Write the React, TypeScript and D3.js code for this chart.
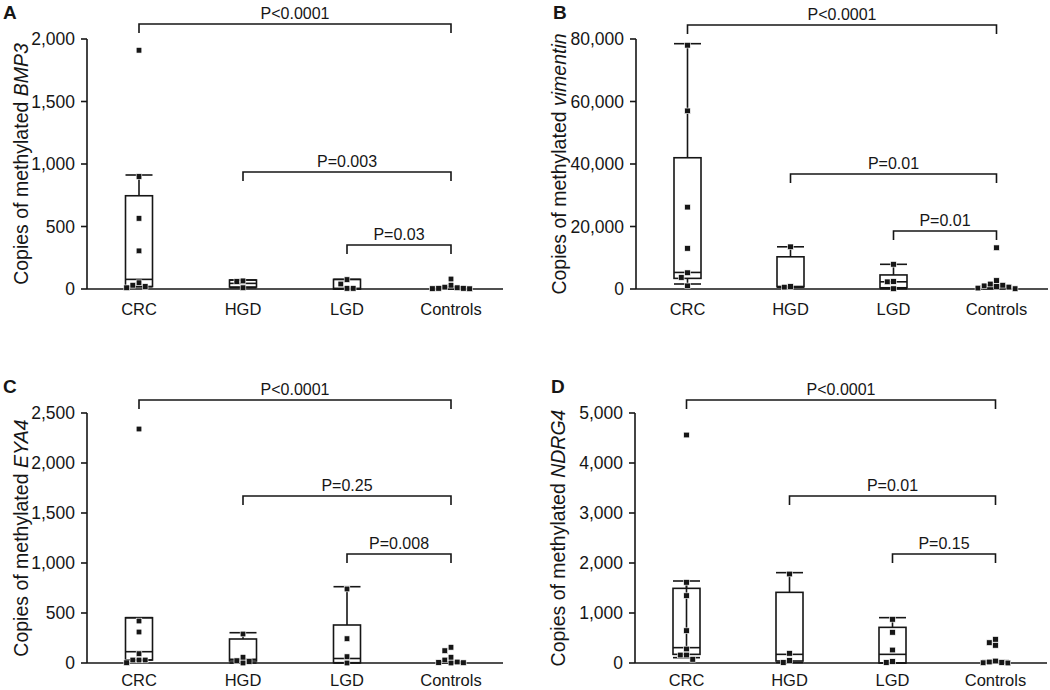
import React from "react";
import * as d3 from "d3";

const categories = ["CRC", "HGD", "LGD", "Controls"];
const bracketPairs = [[0, 3], [1, 3], [2, 3]];

// Panel A – BMP3
const bmp3Points = [
  [1910, 900, 565, 305, 50, 30, 20, 10],
  [65, 60, 10],
  [75, 40, 5, 5],
  [80, 30, 15, 10, 5, 5, 3, 2],
];
// [low whisker, Q1, median, Q3, high whisker]
const bmp3Boxes = [
  [18, 20, 77, 746, 912],
  [10, 16, 45, 72, 72],
  [0, 0, 5, 77, 77],
  [0, 2, 5, 10, 18],
];
const bmp3Ticks = [0, 500, 1000, 1500, 2000];
const bmp3PLabels = ["P<0.0001", "P=0.003", "P=0.03"];
const bmp3PLevels = [2120, 936, 352];

// Panel B – vimentin
const vimPoints = [
  [78000, 57000, 26200, 13000, 5200, 3700, 1000],
  [13500, 800, 600],
  [7900, 2400, 2300, 100],
  [13200, 2700, 1600, 1200, 1000, 800, 600, 300, 100],
];
const vimBoxes = [
  [1600, 3400, 5300, 42000, 78500],
  [600, 700, 800, 10300, 13500],
  [100, 400, 2300, 4500, 7900],
  [100, 300, 700, 1200, 1200],
];
const vimTicks = [0, 20000, 40000, 60000, 80000];
const vimPLabels = ["P<0.0001", "P=0.01", "P=0.01"];
const vimPLevels = [84500, 36800, 18560];

// Panel C – EYA4
const eyaPoints = [
  [2340, 420, 310, 93, 30, 30, 30, 3],
  [290, 57, 23, 15, 0],
  [740, 243, 63, 0],
  [157, 123, 57, 30, 10, 5, 3, 0],
];
const eyaBoxes = [
  [30, 30, 113, 453, 453],
  [0, 20, 37, 240, 303],
  [0, 3, 45, 380, 763],
  [0, 0, 5, 10, 10],
];
const eyaTicks = [0, 500, 1000, 1500, 2000, 2500];
const eyaPLabels = ["P<0.0001", "P=0.25", "P=0.008"];
const eyaPLevels = [2630, 1670, 1090];

// Panel D – NDRG4
const ndrgPoints = [
  [4560, 1613, 1347, 647, 280, 160, 160, 73],
  [1780, 193, 50, 10],
  [873, 613, 260, 30, 10],
  [473, 407, 353, 40, 20, 10, 5, 0],
];
const ndrgBoxes = [
  [107, 173, 307, 1493, 1640],
  [10, 40, 173, 1413, 1807],
  [0, 0, 173, 713, 907],
  [0, 0, 10, 40, 47],
];
const ndrgTicks = [0, 1000, 2000, 3000, 4000, 5000];
const ndrgPLabels = ["P<0.0001", "P=0.01", "P=0.15"];
const ndrgPLevels = [5260, 3340, 2180];

const panels = [
  { letter: "A", gene: "BMP3", points: bmp3Points, boxes: bmp3Boxes, ticks: bmp3Ticks, pLabels: bmp3PLabels, pLevels: bmp3PLevels,
    left: 87, top: 39, width: 416, height: 250, labelX: 28, letterX: 3, letterY: 19, catDy: 26, throughLine: [] as number[] },
  { letter: "B", gene: "vimentin", points: vimPoints, boxes: vimBoxes, ticks: vimTicks, pLabels: vimPLabels, pLevels: vimPLevels,
    left: 636, top: 39, width: 412, height: 250, labelX: 566, letterX: 553, letterY: 19, catDy: 26, throughLine: [] as number[] },
  { letter: "C", gene: "EYA4", points: eyaPoints, boxes: eyaBoxes, ticks: eyaTicks, pLabels: eyaPLabels, pLevels: eyaPLevels,
    left: 87, top: 413, width: 416, height: 250, labelX: 28, letterX: 3, letterY: 393, catDy: 23, throughLine: [] as number[] },
  { letter: "D", gene: "NDRG4", points: ndrgPoints, boxes: ndrgBoxes, ticks: ndrgTicks, pLabels: ndrgPLabels, pLevels: ndrgPLevels,
    left: 635, top: 413, width: 412, height: 250, labelX: 565, letterX: 551, letterY: 393, catDy: 23, throughLine: [0] },
];

const INK = "#161616";
const FONT = "'Liberation Sans', Arial, Helvetica, sans-serif";

function swarm(values: number[], y: (v: number) => number, cx: number) {
  const placed: { x: number; y: number }[] = [];
  const sorted = [...values].sort((a, b) => b - a);
  const step = 6.2;
  for (const v of sorted) {
    const py = y(v);
    for (let k = 0; k < 30; k++) {
      const off = k === 0 ? 0 : (k % 2 === 1 ? -1 : 1) * Math.ceil(k / 2) * step;
      const px = cx + off;
      if (!placed.some((q) => Math.abs(q.x - px) < 5.6 && Math.abs(q.y - py) < 5.6)) {
        placed.push({ x: px, y: py });
        break;
      }
    }
  }
  return placed;
}

function Panel({ cfg }: { cfg: any }) {
  const x = d3.scaleBand().domain(categories).range([cfg.left, cfg.left + cfg.width]);
  const maxV = cfg.ticks[cfg.ticks.length - 1];
  const y = d3.scaleLinear().domain([0, maxV]).range([cfg.top + cfg.height, cfg.top]);
  const cx = (i: number) => (x(categories[i]) as number) + x.bandwidth() / 2;
  const fmt = d3.format(",");
  const bw = 27;
  const y0 = y(0);
  return (
    <g>
      <text x={cfg.letterX} y={cfg.letterY} fontSize={19} fontWeight="bold" fill={INK} fontFamily={FONT}>{cfg.letter}</text>
      <text transform={`translate(${cfg.labelX},${cfg.top + cfg.height / 2}) rotate(-90)`} textAnchor="middle" fontSize={19.5} fill={INK} fontFamily={FONT}>
        Copies of methylated <tspan fontStyle="italic">{cfg.gene}</tspan>
      </text>
      {/* y axis */}
      <line x1={cfg.left} x2={cfg.left} y1={y(maxV)} y2={y0} stroke={INK} strokeWidth={1.6} />
      {cfg.ticks.map((t: number) => (
        <g key={t}>
          <line x1={cfg.left - 6} x2={cfg.left} y1={y(t)} y2={y(t)} stroke={INK} strokeWidth={1.6} />
          <text x={cfg.left - 12} y={y(t) + 6} textAnchor="end" fontSize={17.5} fill={INK} fontFamily={FONT}>{fmt(t)}</text>
        </g>
      ))}
      {/* x axis */}
      <line x1={cfg.left} x2={cfg.left + cfg.width} y1={y0} y2={y0} stroke={INK} strokeWidth={1.6} />
      {categories.map((c, i) => (
        <text key={c} x={cx(i)} y={y0 + cfg.catDy} textAnchor="middle" fontSize={16.5} fill={INK} fontFamily={FONT}>{c}</text>
      ))}
      {/* boxes */}
      {cfg.boxes.map((b: number[], i: number) => {
        const c = cx(i);
        const [lo, q1, med, q3, hi] = b.map((v) => y(v));
        return (
          <g key={i} stroke={INK} strokeWidth={1.6} fill="none">
            {cfg.throughLine.includes(i) ? <line x1={c} x2={c} y1={hi} y2={med} /> : null}
            <line x1={c} x2={c} y1={q3} y2={hi} />
            <line x1={c} x2={c} y1={q1} y2={lo} />
            <line x1={c - bw / 2} x2={c + bw / 2} y1={hi} y2={hi} />
            <line x1={c - bw / 2} x2={c + bw / 2} y1={lo} y2={lo} />
            <rect x={c - bw / 2} y={q3} width={bw} height={Math.max(0.5, q1 - q3)} />
            <line x1={c - bw / 2} x2={c + bw / 2} y1={med} y2={med} />
          </g>
        );
      })}
      {/* points */}
      {cfg.points.map((vals: number[], i: number) =>
        swarm(vals, y, cx(i)).map((p, j) => (
          <rect key={`${i}-${j}`} x={p.x - 2.8} y={p.y - 2.8} width={5.6} height={5.6} fill={INK} stroke="#fff" strokeWidth={0.6} />
        ))
      )}
      {/* brackets */}
      {bracketPairs.map(([a, b], k) => {
        const ly = y(cfg.pLevels[k]);
        const xa = cx(a);
        const xb = cx(b);
        return (
          <g key={k}>
            <path d={`M${xa},${ly + 9}V${ly}H${xb}V${ly + 9}`} fill="none" stroke={INK} strokeWidth={1.6} />
            <text x={(xa + xb) / 2} y={ly - 5} textAnchor="middle" fontSize={16} fill={INK} fontFamily={FONT}>{cfg.pLabels[k]}</text>
          </g>
        );
      })}
    </g>
  );
}

export default function App() {
  return (
    <svg width={1050} height={690} style={{ position: "fixed", left: 0, top: 0, background: "#fff" }}>
      <rect width={1050} height={690} fill="#fff" />
      {panels.map((p) => (
        <Panel key={p.letter} cfg={p} />
      ))}
    </svg>
  );
}
